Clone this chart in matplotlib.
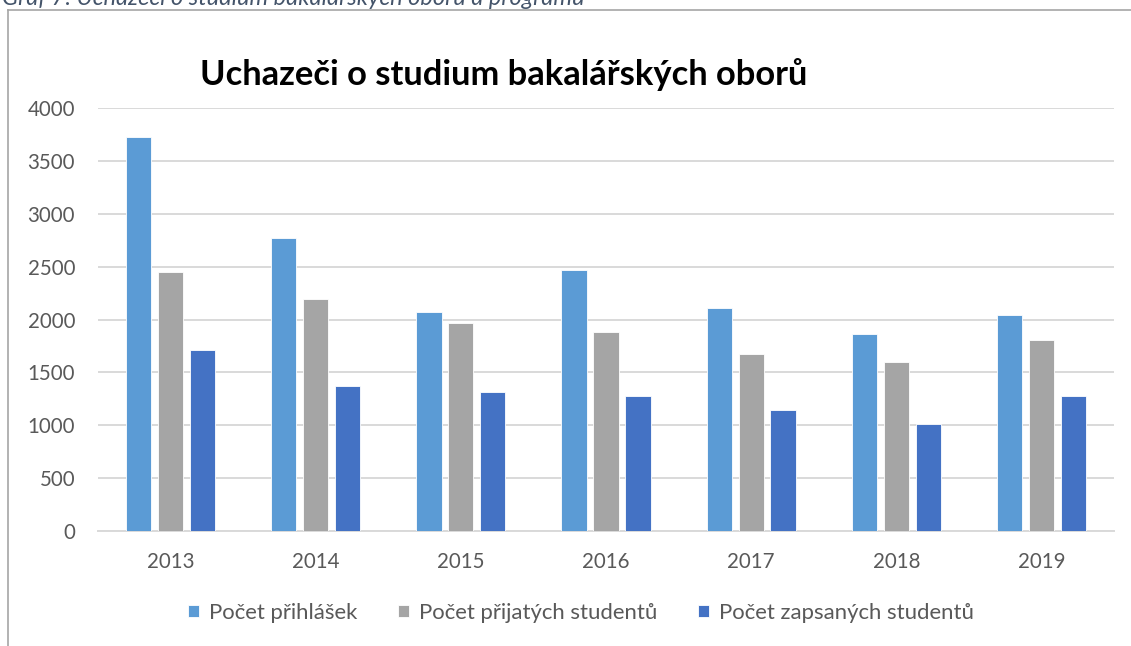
import matplotlib
matplotlib.use("Agg")
import matplotlib.pyplot as plt
import numpy as np
from matplotlib.lines import Line2D

plt.rcParams['font.family'] = ['Lato', 'DejaVu Sans']

years = ["2013", "2014", "2015", "2016", "2017", "2018", "2019"]
prihlasky = [3724, 2772, 2072, 2469, 2110, 1861, 2047]
prijati = [2447, 2193, 1965, 1883, 1677, 1595, 1803]
zapsani = [1714, 1373, 1311, 1273, 1146, 1009, 1279]
series_names = ["Počet přihlášek", "Počet přijatých studentů", "Počet zapsaných studentů"]
colors = ["#5B9BD5", "#A5A5A5", "#4472C4"]
title = "Uchazeči o studium bakalářských oborů"
caption = "Graf 7: Uchazeči o studium bakalářských oborů a programů"

W, H = 1131, 646
fig = plt.figure(figsize=(W / 100, H / 100), dpi=100)
ax = fig.add_axes([98 / W, 1 - 531 / H, (1114 - 98) / W, (531 - 108) / H])

x = np.arange(len(years))
bw = 0.174
step = 0.22
for i, (vals, c, name) in enumerate(zip([prihlasky, prijati, zapsani], colors, series_names)):
    ax.bar(x + (i - 1) * step, vals, width=bw, color=c, edgecolor='white', linewidth=0.6,
           label=name, zorder=3)

ax.set_xlim(-0.5, len(years) - 0.5)
ax.set_ylim(0, 4000)
ax.set_yticks(np.arange(0, 4001, 500))
ax.set_xticks(x)
ax.set_xticklabels(years)
ax.yaxis.grid(True, color='#D9D9D9', linewidth=1.4, zorder=0)
ax.set_axisbelow(True)
for s in ['top', 'right', 'left']:
    ax.spines[s].set_visible(False)
ax.spines['bottom'].set_color('#D9D9D9')
ax.spines['bottom'].set_linewidth(1.4)
ax.tick_params(axis='both', length=0, labelsize=14.8, labelcolor='#595959')
ax.tick_params(axis='x', pad=15)
ax.tick_params(axis='y', pad=16.5)

fig.text(200 / W, 1 - 75 / H, title, fontsize=24.8, fontweight='bold', color='black',
         ha='left', va='center')

leg = fig.legend(loc='center left', bbox_to_anchor=(170 / W, 1 - 613 / H), ncol=3, frameon=False,
                 fontsize=15.9, handlelength=0.5, handleheight=0.5, handletextpad=0.45,
                 columnspacing=1.85, labelcolor='#595959', borderpad=0.3)

fig.text(2 / W, 1 - 5 / H, caption, fontsize=17, style='italic', color='#44546A',
         ha='left', va='baseline')

fig.add_artist(Line2D([8 / W, 1.0], [1 - 10 / H, 1 - 10 / H], transform=fig.transFigure,
                      color='#A6A6A6', linewidth=1.2))
fig.add_artist(Line2D([8 / W, 8 / W], [1 - 10 / H, 0], transform=fig.transFigure,
                      color='#A6A6A6', linewidth=1.2))

fig.savefig("out.png", dpi=100)
